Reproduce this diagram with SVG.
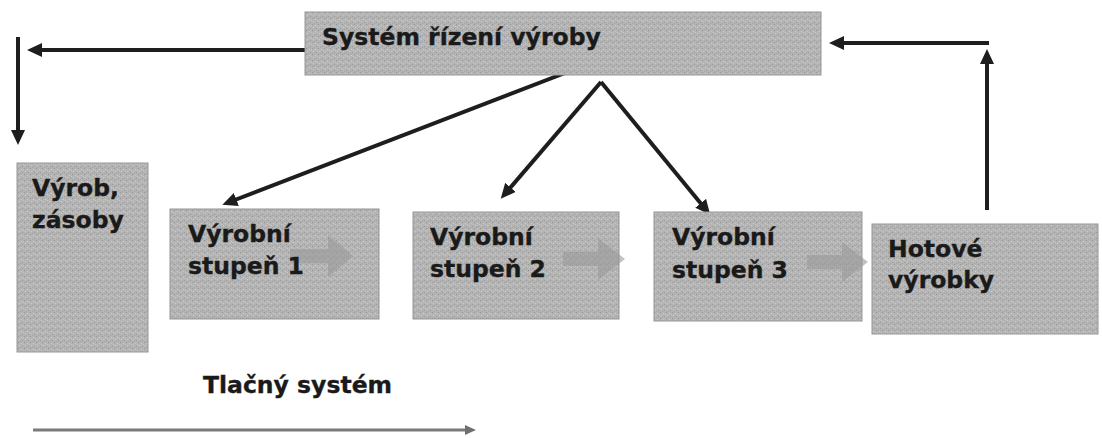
<svg xmlns="http://www.w3.org/2000/svg" width="1102" height="438" viewBox="0 0 1102 438">
<style>
.box{fill:url(#grain);stroke:#969696;stroke-width:1}
.lbl{font-family:"DejaVu Sans","Verdana",sans-serif;font-weight:bold;font-size:23.5px;fill:#1a1a1a;stroke:#1a1a1a;stroke-width:0.35}
.con{stroke:#1e1e1e;stroke-width:4;fill:none}
.blk{fill:#999999;opacity:0.6}
</style>
<defs>
<pattern id="grain" width="6" height="6" patternUnits="userSpaceOnUse">
<rect width="6" height="6" fill="#b4b4b4"/>
<rect x="0" y="0" width="1" height="1" fill="#939393"/>
<rect x="3" y="1" width="1" height="1" fill="#cdcdcd"/>
<rect x="1" y="3" width="1" height="1" fill="#cbcbcb"/>
<rect x="4" y="4" width="1" height="1" fill="#999999"/>
<rect x="2" y="5" width="1" height="1" fill="#a2a2a2"/>
<rect x="5" y="2" width="1" height="1" fill="#c6c6c6"/>
</pattern>
<marker id="ah" markerUnits="userSpaceOnUse" markerWidth="16" markerHeight="16" refX="10" refY="7" orient="auto">
<path d="M0,0 L15,7 L0,14 z" fill="#1e1e1e"/>
</marker>
<marker id="ahg" markerUnits="userSpaceOnUse" markerWidth="14" markerHeight="14" refX="6" refY="5" orient="auto">
<path d="M0,0 L11,5 L0,10 z" fill="#707070"/>
</marker>
</defs>
<rect width="1102" height="438" fill="#ffffff"/>

<g id="connectors">
<path class="con" d="M305,50 H32" marker-end="url(#ah)"/>
<path class="con" d="M18,37 V140" marker-end="url(#ah)"/>
<path class="con" d="M604,58 L227,203" marker-end="url(#ah)"/>
<path class="con" d="M601,82 L504,195" marker-end="url(#ah)"/>
<path class="con" d="M601,82 L707,211" marker-end="url(#ah)"/>
<path class="con" d="M987,210 V54" marker-end="url(#ah)"/>
<path class="con" d="M989,43 H834" marker-end="url(#ah)"/>
<path d="M33,430 H471" stroke="#7a7a7a" stroke-width="3" fill="none" marker-end="url(#ahg)"/>
</g>

<g id="n-system">
<rect class="box" x="305" y="12" width="516" height="63"/>
<text class="lbl" x="322" y="45">Systém řízení výroby</text>
</g>

<g id="n-zasoby">
<rect class="box" x="17" y="163" width="131" height="189"/>
<text class="lbl" x="32" y="196">Výrob,</text>
<text class="lbl" x="32" y="228">zásoby</text>
</g>

<g id="n-stupen1">
<rect class="box" x="170" y="209" width="209" height="110"/>
<polygon class="blk" points="290,249 328,249 328,235 353,256 328,277 328,263 290,263"/>
<text class="lbl" x="188" y="242">Výrobní</text>
<text class="lbl" x="188" y="274">stupeň 1</text>
</g>

<g id="n-stupen2">
<rect class="box" x="413" y="212" width="206" height="107"/>
<polygon class="blk" points="563,252 598,252 598,238 625,259 598,280 598,266 563,266"/>
<text class="lbl" x="430" y="245">Výrobní</text>
<text class="lbl" x="430" y="277">stupeň 2</text>
</g>

<g id="n-stupen3">
<rect class="box" x="654" y="212" width="208" height="109"/>
<polygon class="blk" points="807,255 842,255 842,242 868,262 842,282 842,269 807,269"/>
<text class="lbl" x="672" y="245">Výrobní</text>
<text class="lbl" x="672" y="278">stupeň 3</text>
</g>

<g id="n-hotove">
<rect class="box" x="872" y="224" width="226" height="110"/>
<text class="lbl" x="888" y="257">Hotové</text>
<text class="lbl" x="888" y="288">výrobky</text>
</g>

<g id="n-tlacny">
<text class="lbl" x="203" y="393">Tlačný systém</text>
</g>
</svg>
